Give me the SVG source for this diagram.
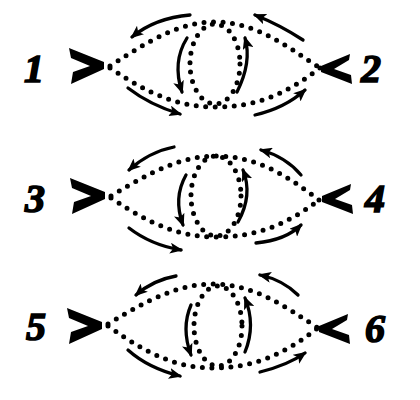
<svg xmlns="http://www.w3.org/2000/svg" width="420" height="400" viewBox="0 0 420 400">
<style>
.dot{fill:none;stroke:#000;stroke-width:5;stroke-linecap:round;stroke-dasharray:0 9.5}
.arr{fill:none;stroke:#000;stroke-width:3.3;stroke-linecap:round;marker-end:url(#ah)}
.num{font-family:"Liberation Serif",serif;font-weight:bold;font-style:italic;font-size:40px;fill:#000;stroke:#000;stroke-width:1.6}
.chev{fill:#000}
</style>
<defs>
<marker id="ah" viewBox="0 0 13 11" refX="11" refY="5.5" markerWidth="13" markerHeight="11" markerUnits="userSpaceOnUse" orient="auto">
<path d="M0,0 L13,5.5 L0,11 L3,5.5 Z" fill="#000"/>
</marker>
</defs>
<rect width="420" height="400" fill="#fff"/>
<g id="fig1">
<g id="n1"><text class="num" x="24" y="82">1</text><path class="chev" d="M69,48 L104,62 L104,69 L71,84 L73,72 L90,66 L71,58 Z"/></g>
<g id="n2"><text class="num" x="361" y="82">2</text><path class="chev" d="M350,54 L321,66 L321,72 L352,84 L351,75 L334,69 L349,60 Z"/></g>
<g id="c1">
<path class="dot" d="M110,66 C150,40 180,22 215,22 C255,22 285,45 320,68"/>
<path class="dot" d="M110,68 C150,95 180,107 215,107 C255,107 285,95 320,68"/>
<ellipse class="dot" cx="215" cy="64" rx="25" ry="40"/>
<path class="arr" d="M190,15 Q155,18 132,37"/>
<path class="arr" d="M303,40 Q280,25 255,15"/>
<path class="arr" d="M128,88 Q150,105 180,114"/>
<path class="arr" d="M255,115 Q285,108 305,90"/>
<path class="arr" d="M187,38 Q172,62 182,92"/>
<path class="arr" d="M237,92 Q252,62 245,38"/>
</g>
</g>
<g id="fig2" transform="translate(1,130)">
<g id="n3"><text class="num" x="24" y="82">3</text><path class="chev" d="M69,48 L104,62 L104,69 L71,84 L73,72 L90,66 L71,58 Z"/></g>
<g id="n4"><text class="num" x="364" y="82">4</text><path class="chev" d="M350,54 L321,66 L321,72 L352,84 L351,75 L334,69 L349,60 Z"/></g>
<g id="c2">
<path class="dot" d="M110,66 C150,42 180,26 215,26 C255,26 285,45 318,70"/>
<path class="dot" d="M110,68 C150,95 180,107 215,107 C255,107 285,95 318,70"/>
<ellipse class="dot" cx="215" cy="66" rx="25" ry="40"/>
<path class="arr" d="M173,17 Q148,22 128,40"/>
<path class="arr" d="M300,45 Q285,27 260,20"/>
<path class="arr" d="M128,98 Q150,115 180,120"/>
<path class="arr" d="M255,113 Q285,110 300,95"/>
<path class="arr" d="M185,45 Q172,68 182,95"/>
<path class="arr" d="M237,92 Q252,65 242,40"/>
</g>
</g>
<g id="fig3" transform="translate(-2,260)">
<g id="n5"><text class="num" x="28" y="80">5</text><path class="chev" d="M69,48 L104,62 L104,69 L71,84 L73,72 L90,66 L71,58 Z"/></g>
<g id="n6"><text class="num" x="367" y="82">6</text><path class="chev" d="M350,54 L321,66 L321,72 L352,84 L351,75 L334,69 L349,60 Z"/></g>
<g id="c3">
<path class="dot" d="M110,64 C150,40 180,24 215,24 C255,24 285,45 320,68"/>
<path class="dot" d="M110,66 C150,95 180,108 215,108 C255,108 285,95 320,68"/>
<ellipse class="dot" cx="220" cy="66" rx="24" ry="40"/>
<path class="arr" d="M178,16 Q155,20 138,35"/>
<path class="arr" d="M300,35 Q285,20 262,15"/>
<path class="arr" d="M130,90 Q150,108 182,116"/>
<path class="arr" d="M262,112 Q290,105 307,93"/>
<path class="arr" d="M193,45 Q183,68 193,95"/>
<path class="arr" d="M247,92 Q258,65 247,38"/>
</g>
</g>
</svg>
